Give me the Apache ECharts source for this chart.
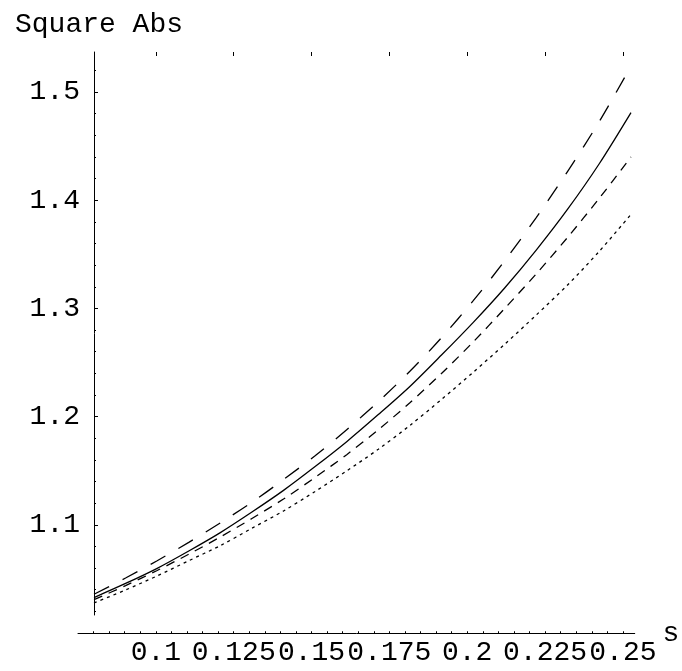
<!DOCTYPE html>
<html>
<head>
<meta charset="utf-8">
<script src="https://cdn.jsdelivr.net/npm/echarts@6/dist/echarts.min.js"></script>
<style>
html,body{margin:0;padding:0;background:#fff;}
#chart{width:682px;height:671px;}
</style>
</head>
<body>
<div id="chart"></div>
<script>
const sValues = [0.08,0.09,0.10,0.11,0.12,0.13,0.14,0.15,0.16,0.17,0.18,0.19,0.20,0.21,0.22,0.23,0.24,0.25];
const longDash = [1.036,1.051,1.067,1.084,1.102,1.121,1.142,1.164,1.188,1.214,1.242,1.273,1.307,1.344,1.384,1.427,1.473,1.524];
const solidLine = [1.033,1.046,1.060,1.076,1.093,1.112,1.132,1.154,1.177,1.202,1.228,1.257,1.287,1.319,1.354,1.392,1.434,1.481];
const shortDash = [1.031,1.044,1.058,1.073,1.089,1.106,1.124,1.144,1.165,1.188,1.213,1.240,1.269,1.300,1.332,1.366,1.402,1.440];
const dotted = [1.028,1.040,1.053,1.067,1.081,1.097,1.113,1.131,1.150,1.170,1.192,1.216,1.241,1.267,1.294,1.322,1.353,1.387];

const xMajorTicks = [0.1,0.125,0.15,0.175,0.2,0.225,0.25];
const xMinorTicks = [0.08,0.085,0.09,0.095,0.1,0.105,0.11,0.115,0.12,0.125,0.13,0.135,0.14,0.145,0.15,0.155,0.16,0.165,0.17,0.175,0.18,0.185,0.19,0.195,0.2,0.205,0.21,0.215,0.22,0.225,0.23,0.235,0.24,0.245,0.25];
const yMajorTicks = [1.1,1.2,1.3,1.4,1.5];
const yMinorTicks = [1.02,1.04,1.06,1.08,1.1,1.12,1.14,1.16,1.18,1.2,1.22,1.24,1.26,1.28,1.3,1.32,1.34,1.36,1.38,1.4,1.42,1.44,1.46,1.48,1.5,1.52];

const FONT = 'Liberation Mono';
const FS = 28;
const pair = arr => sValues.map((s,i)=>[s,arr[i]]);

const chart = echarts.init(document.getElementById('chart'), null, {renderer:'canvas'});
const lineCommon = {type:'line', xAxisIndex:0, yAxisIndex:0, showSymbol:false, smooth:0.3, silent:true, animation:false};

chart.setOption({
  animation:false,
  backgroundColor:'#ffffff',
  title:{text:'Square Abs', left:10, top:6, textStyle:{fontFamily:FONT, fontSize:FS, fontWeight:'normal', color:'#000'}},
  grid:[
    {left:94, right:51, top:52, bottom:37.75},
    {left:78, right:38, top:52, bottom:37.75},
    {left:94, right:51, top:52, bottom:56}
  ],
  xAxis:[
    {gridIndex:0, type:'value', min:0.08, max:0.25, show:false},
    {gridIndex:1, type:'value', min:0.075, max:0.2538,
      name:'s', nameLocation:'end', nameGap:18,
      nameTextStyle:{fontFamily:FONT, fontSize:FS, color:'#000', padding:[0,0,8,0]},
      axisLine:{show:true, onZero:false, lineStyle:{color:'#000', width:1}},
      axisTick:{show:true, inside:true, length:2, customValues:xMinorTicks, lineStyle:{color:'#000', width:1}},
      axisLabel:{show:true, customValues:xMajorTicks, margin:5, fontFamily:FONT, fontSize:FS, color:'#000', hideOverlap:false},
      splitLine:{show:false}},
    {gridIndex:1, type:'value', min:0.075, max:0.2538,
      axisLine:{show:false},
      axisTick:{show:true, inside:true, length:4, customValues:xMajorTicks, lineStyle:{color:'#000', width:1}},
      axisLabel:{show:false}, splitLine:{show:false}},
    {gridIndex:2, type:'value', min:0, max:1, show:false}
  ],
  yAxis:[
    {gridIndex:0, type:'value', min:1.0, max:1.537, show:false},
    {gridIndex:1, type:'value', min:1.0, max:1.537, show:false},
    {gridIndex:2, type:'value', min:1.0166, max:1.537, position:'left',
      axisLine:{show:true, onZero:false, lineStyle:{color:'#000', width:1}},
      axisTick:{show:true, inside:true, length:2, customValues:yMinorTicks, lineStyle:{color:'#000', width:1}},
      axisLabel:{show:true, customValues:yMajorTicks, margin:14, fontFamily:FONT, fontSize:FS, color:'#000'},
      splitLine:{show:false}},
    {gridIndex:2, type:'value', min:1.0166, max:1.537, position:'left',
      axisLine:{show:false},
      axisTick:{show:true, inside:true, length:4, customValues:yMajorTicks, lineStyle:{color:'#000', width:1}},
      axisLabel:{show:false}, splitLine:{show:false}}
  ],
  series:[
    Object.assign({}, lineCommon, {name:'long', data:pair(longDash), lineStyle:{color:'#000', width:1.3, type:[17,15]}}),
    Object.assign({}, lineCommon, {name:'solid', data:pair(solidLine), lineStyle:{color:'#000', width:1.3, type:'solid'}}),
    Object.assign({}, lineCommon, {name:'short', data:pair(shortDash), lineStyle:{color:'#000', width:1.3, type:[9,7]}}),
    Object.assign({}, lineCommon, {name:'dot', data:pair(dotted), lineStyle:{color:'#000', width:1.3, type:[3,4]}})
  ]
});
</script>
</body>
</html>
